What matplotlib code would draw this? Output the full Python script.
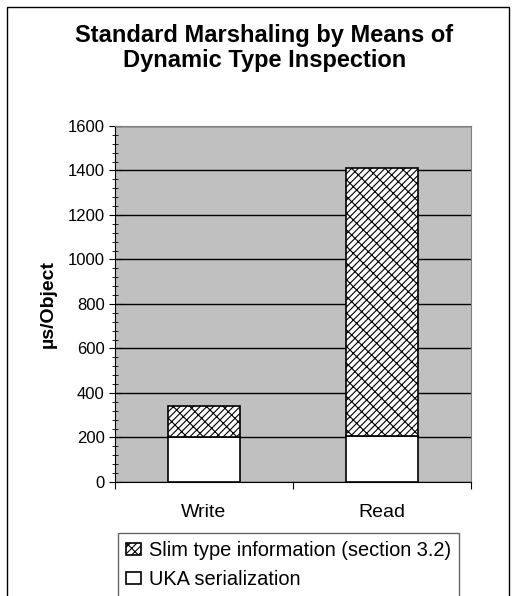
import numpy as np
import matplotlib
matplotlib.use('Agg')
import matplotlib.pyplot as plt
from matplotlib.patches import Rectangle
from matplotlib.ticker import MultipleLocator
from matplotlib.legend_handler import HandlerPatch

plt.rcParams['font.family'] = ['Liberation Sans', 'DejaVu Sans']
plt.rcParams['hatch.linewidth'] = 0.8

# data
categories = ['Write', 'Read']
uka = [200, 205]
slim = [143, 1205]
series_names = ['Slim type information (section 3.2)', 'UKA serialization']

fig = plt.figure(figsize=(5.29, 5.96), dpi=100)
ax = fig.add_axes([115 / 529, 0.1913, 0.673, 0.5973])
ax.set_facecolor('#C0C0C0')

x = np.arange(len(categories))
b1 = ax.bar(x, uka, width=0.404, color='white', edgecolor='black', lw=1.2, zorder=3)
b2 = ax.bar(x, slim, width=0.404, bottom=uka, color='white', edgecolor='black',
            hatch='/////\\\\', lw=1.2, zorder=3)

ax.set_xlim(-0.5, 1.5)
ax.set_ylim(0, 1600)
ax.yaxis.set_major_locator(MultipleLocator(200))
ax.yaxis.set_minor_locator(MultipleLocator(40))
ax.grid(axis='y', color='black', lw=1, zorder=1)
ax.set_axisbelow(True)

# category boundaries as ticks, labels in between
ax.set_xticks([-0.5, 0.5, 1.5])
ax.set_xticklabels(['', '', ''])
ax.set_xticks(x, minor=True)
ax.set_xticklabels(categories, minor=True, fontsize=14)
ax.tick_params(axis='x', which='major', direction='out', length=5)
ax.tick_params(axis='x', which='minor', length=0, pad=16)
ax.tick_params(axis='y', which='major', direction='inout', length=8, labelsize=12)
ax.tick_params(axis='y', which='minor', direction='inout', length=5)

for s in ['top', 'right']:
    ax.spines[s].set_color('#808080')
for s in ['left', 'bottom']:
    ax.spines[s].set_color('black')

ax.set_ylabel('µs/Object', fontsize=14, fontweight='bold', labelpad=8)

fig.text(0.5, 1 - 48 / 596, 'Standard Marshaling by Means of\nDynamic Type Inspection',
         ha='center', va='center', fontsize=17, fontweight='bold', linespacing=1.15)


# small square legend keys, pushed to the right of the handle box
def square_key(legend, orig_handle, xdescent, ydescent, width, height, fontsize):
    return Rectangle((width - height - xdescent, -ydescent), height, height)


leg = fig.legend([b2, b1], series_names, loc='upper left',
                 bbox_to_anchor=(118 / 529, 1 - 533 / 596), fontsize=14.4,
                 frameon=True, fancybox=False, edgecolor='#404040',
                 handlelength=0.75, handleheight=0.5, handletextpad=0.4,
                 borderpad=0.4, labelspacing=0.5, borderaxespad=0,
                 handler_map={Rectangle: HandlerPatch(patch_func=square_key)})
leg.get_frame().set_linewidth(1)

# outer chart border
fig.patches.append(Rectangle((7 / 529, -0.05), 502 / 529, 1.05 - 7 / 596,
                             transform=fig.transFigure, fill=False,
                             edgecolor='black', lw=1))

fig.savefig('out.png', dpi=100)
